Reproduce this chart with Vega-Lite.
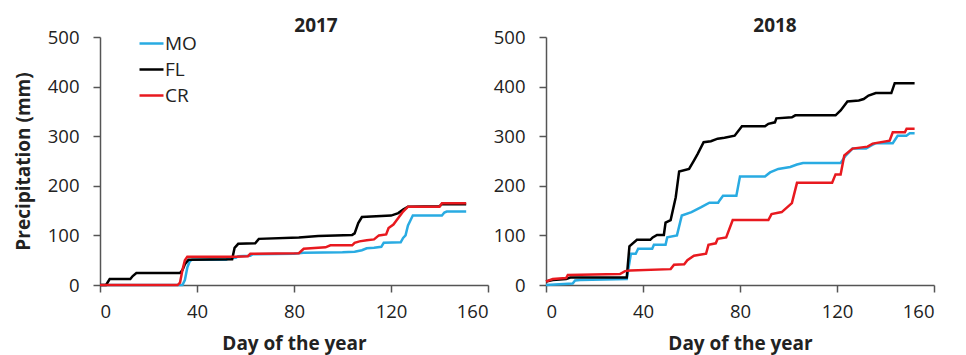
{
  "$schema": "https://vega.github.io/schema/vega-lite/v6.json",
  "background": "white",
  "padding": {"left": 14, "top": 17, "right": 5, "bottom": 2},
  "datasets": {
    "rain": [
      {"yr":2017,"s":"MO","d":0,"p":0},{"yr":2017,"s":"MO","d":34,"p":0},{"yr":2017,"s":"MO","d":35,"p":10},{"yr":2017,"s":"MO","d":36,"p":35},{"yr":2017,"s":"MO","d":37,"p":48},{"yr":2017,"s":"MO","d":38,"p":51},{"yr":2017,"s":"MO","d":52,"p":51},{"yr":2017,"s":"MO","d":53,"p":54},{"yr":2017,"s":"MO","d":56,"p":55},{"yr":2017,"s":"MO","d":57,"p":58},{"yr":2017,"s":"MO","d":62,"p":59},{"yr":2017,"s":"MO","d":63,"p":62},{"yr":2017,"s":"MO","d":80,"p":63},{"yr":2017,"s":"MO","d":84,"p":65},{"yr":2017,"s":"MO","d":100,"p":66},{"yr":2017,"s":"MO","d":105,"p":67},{"yr":2017,"s":"MO","d":108,"p":70},{"yr":2017,"s":"MO","d":110,"p":74},{"yr":2017,"s":"MO","d":113,"p":75},{"yr":2017,"s":"MO","d":116,"p":77},{"yr":2017,"s":"MO","d":117,"p":85},{"yr":2017,"s":"MO","d":124,"p":86},{"yr":2017,"s":"MO","d":125,"p":95},{"yr":2017,"s":"MO","d":126,"p":100},{"yr":2017,"s":"MO","d":127,"p":120},{"yr":2017,"s":"MO","d":128,"p":130},{"yr":2017,"s":"MO","d":129,"p":140},{"yr":2017,"s":"MO","d":141,"p":140},{"yr":2017,"s":"MO","d":142,"p":146},{"yr":2017,"s":"MO","d":143,"p":148},{"yr":2017,"s":"MO","d":151,"p":148},

      {"yr":2017,"s":"FL","d":0,"p":0},{"yr":2017,"s":"FL","d":2.5,"p":0},{"yr":2017,"s":"FL","d":4,"p":12},{"yr":2017,"s":"FL","d":12.5,"p":12},{"yr":2017,"s":"FL","d":13.5,"p":18},{"yr":2017,"s":"FL","d":15,"p":24},{"yr":2017,"s":"FL","d":33,"p":24},{"yr":2017,"s":"FL","d":34,"p":30},{"yr":2017,"s":"FL","d":35,"p":42},{"yr":2017,"s":"FL","d":36.5,"p":51},{"yr":2017,"s":"FL","d":54.5,"p":52},{"yr":2017,"s":"FL","d":55.5,"p":75},{"yr":2017,"s":"FL","d":57,"p":83},{"yr":2017,"s":"FL","d":64,"p":84},{"yr":2017,"s":"FL","d":65.5,"p":93},{"yr":2017,"s":"FL","d":82,"p":96},{"yr":2017,"s":"FL","d":90,"p":99},{"yr":2017,"s":"FL","d":104,"p":101},{"yr":2017,"s":"FL","d":105,"p":104},{"yr":2017,"s":"FL","d":106.5,"p":125},{"yr":2017,"s":"FL","d":108,"p":137},{"yr":2017,"s":"FL","d":120,"p":140},{"yr":2017,"s":"FL","d":123,"p":145},{"yr":2017,"s":"FL","d":125,"p":152},{"yr":2017,"s":"FL","d":127,"p":158},{"yr":2017,"s":"FL","d":140,"p":159},{"yr":2017,"s":"FL","d":141,"p":163},{"yr":2017,"s":"FL","d":151,"p":163},

      {"yr":2017,"s":"CR","d":0,"p":0},{"yr":2017,"s":"CR","d":32,"p":0},{"yr":2017,"s":"CR","d":33,"p":5},{"yr":2017,"s":"CR","d":34,"p":30},{"yr":2017,"s":"CR","d":35,"p":50},{"yr":2017,"s":"CR","d":36,"p":57},{"yr":2017,"s":"CR","d":56,"p":57},{"yr":2017,"s":"CR","d":61,"p":58},{"yr":2017,"s":"CR","d":62,"p":63},{"yr":2017,"s":"CR","d":82,"p":64},{"yr":2017,"s":"CR","d":84,"p":73},{"yr":2017,"s":"CR","d":93,"p":76},{"yr":2017,"s":"CR","d":95,"p":80},{"yr":2017,"s":"CR","d":104,"p":80},{"yr":2017,"s":"CR","d":105,"p":85},{"yr":2017,"s":"CR","d":107,"p":88},{"yr":2017,"s":"CR","d":110,"p":90},{"yr":2017,"s":"CR","d":113,"p":92},{"yr":2017,"s":"CR","d":115,"p":100},{"yr":2017,"s":"CR","d":118,"p":102},{"yr":2017,"s":"CR","d":119,"p":115},{"yr":2017,"s":"CR","d":121,"p":122},{"yr":2017,"s":"CR","d":123,"p":135},{"yr":2017,"s":"CR","d":125,"p":148},{"yr":2017,"s":"CR","d":127,"p":158},{"yr":2017,"s":"CR","d":140,"p":158},{"yr":2017,"s":"CR","d":141,"p":165},{"yr":2017,"s":"CR","d":151,"p":165},

      {"yr":2018,"s":"MO","d":0,"p":0},{"yr":2018,"s":"MO","d":11,"p":3},{"yr":2018,"s":"MO","d":12,"p":9},{"yr":2018,"s":"MO","d":14,"p":10},{"yr":2018,"s":"MO","d":33.3,"p":12},{"yr":2018,"s":"MO","d":35,"p":63},{"yr":2018,"s":"MO","d":37,"p":63},{"yr":2018,"s":"MO","d":38,"p":73},{"yr":2018,"s":"MO","d":43.8,"p":73},{"yr":2018,"s":"MO","d":44.5,"p":81},{"yr":2018,"s":"MO","d":49.3,"p":81},{"yr":2018,"s":"MO","d":50,"p":96},{"yr":2018,"s":"MO","d":54,"p":100},{"yr":2018,"s":"MO","d":56,"p":140},{"yr":2018,"s":"MO","d":60,"p":147},{"yr":2018,"s":"MO","d":64,"p":157},{"yr":2018,"s":"MO","d":67.4,"p":166},{"yr":2018,"s":"MO","d":71,"p":166},{"yr":2018,"s":"MO","d":71.5,"p":170},{"yr":2018,"s":"MO","d":73,"p":180},{"yr":2018,"s":"MO","d":78.5,"p":180},{"yr":2018,"s":"MO","d":80,"p":219},{"yr":2018,"s":"MO","d":90.3,"p":219},{"yr":2018,"s":"MO","d":92.4,"p":227},{"yr":2018,"s":"MO","d":95.8,"p":234},{"yr":2018,"s":"MO","d":100.7,"p":238},{"yr":2018,"s":"MO","d":103.5,"p":243},{"yr":2018,"s":"MO","d":106,"p":246},{"yr":2018,"s":"MO","d":121.5,"p":246},{"yr":2018,"s":"MO","d":123.6,"p":261},{"yr":2018,"s":"MO","d":126.4,"p":275},{"yr":2018,"s":"MO","d":132,"p":275},{"yr":2018,"s":"MO","d":134,"p":281},{"yr":2018,"s":"MO","d":136,"p":286},{"yr":2018,"s":"MO","d":143,"p":286},{"yr":2018,"s":"MO","d":145,"p":301},{"yr":2018,"s":"MO","d":148.6,"p":301},{"yr":2018,"s":"MO","d":150,"p":306},{"yr":2018,"s":"MO","d":152,"p":306},

      {"yr":2018,"s":"FL","d":0,"p":7},{"yr":2018,"s":"FL","d":2.8,"p":10},{"yr":2018,"s":"FL","d":8.3,"p":12},{"yr":2018,"s":"FL","d":10,"p":15},{"yr":2018,"s":"FL","d":33.3,"p":15},{"yr":2018,"s":"FL","d":34.4,"p":78},{"yr":2018,"s":"FL","d":37.5,"p":91},{"yr":2018,"s":"FL","d":43,"p":91},{"yr":2018,"s":"FL","d":44,"p":96},{"yr":2018,"s":"FL","d":45.8,"p":101},{"yr":2018,"s":"FL","d":48.6,"p":101},{"yr":2018,"s":"FL","d":49.3,"p":126},{"yr":2018,"s":"FL","d":51.4,"p":131},{"yr":2018,"s":"FL","d":53.5,"p":177},{"yr":2018,"s":"FL","d":54.9,"p":229},{"yr":2018,"s":"FL","d":59,"p":234},{"yr":2018,"s":"FL","d":61,"p":251},{"yr":2018,"s":"FL","d":62.5,"p":264},{"yr":2018,"s":"FL","d":65,"p":288},{"yr":2018,"s":"FL","d":68,"p":290},{"yr":2018,"s":"FL","d":70.8,"p":295},{"yr":2018,"s":"FL","d":73.6,"p":297},{"yr":2018,"s":"FL","d":77.8,"p":301},{"yr":2018,"s":"FL","d":80.8,"p":320},{"yr":2018,"s":"FL","d":90.3,"p":320},{"yr":2018,"s":"FL","d":91.7,"p":325},{"yr":2018,"s":"FL","d":94.4,"p":328},{"yr":2018,"s":"FL","d":95,"p":336},{"yr":2018,"s":"FL","d":101.4,"p":338},{"yr":2018,"s":"FL","d":102.8,"p":342},{"yr":2018,"s":"FL","d":119.4,"p":342},{"yr":2018,"s":"FL","d":121.5,"p":352},{"yr":2018,"s":"FL","d":124.3,"p":370},{"yr":2018,"s":"FL","d":129,"p":372},{"yr":2018,"s":"FL","d":131,"p":375},{"yr":2018,"s":"FL","d":133,"p":382},{"yr":2018,"s":"FL","d":136,"p":387},{"yr":2018,"s":"FL","d":142.4,"p":387},{"yr":2018,"s":"FL","d":143.8,"p":407},{"yr":2018,"s":"FL","d":152,"p":407},

      {"yr":2018,"s":"CR","d":0,"p":7},{"yr":2018,"s":"CR","d":2.8,"p":12},{"yr":2018,"s":"CR","d":8.3,"p":14},{"yr":2018,"s":"CR","d":9,"p":20},{"yr":2018,"s":"CR","d":30.5,"p":22},{"yr":2018,"s":"CR","d":32.6,"p":28},{"yr":2018,"s":"CR","d":34.7,"p":29},{"yr":2018,"s":"CR","d":51.4,"p":32},{"yr":2018,"s":"CR","d":52.8,"p":41},{"yr":2018,"s":"CR","d":57,"p":42},{"yr":2018,"s":"CR","d":58.3,"p":50},{"yr":2018,"s":"CR","d":61,"p":59},{"yr":2018,"s":"CR","d":66,"p":63},{"yr":2018,"s":"CR","d":67,"p":81},{"yr":2018,"s":"CR","d":70,"p":84},{"yr":2018,"s":"CR","d":70.8,"p":93},{"yr":2018,"s":"CR","d":74.3,"p":96},{"yr":2018,"s":"CR","d":77,"p":131},{"yr":2018,"s":"CR","d":91.7,"p":131},{"yr":2018,"s":"CR","d":93,"p":143},{"yr":2018,"s":"CR","d":97.2,"p":147},{"yr":2018,"s":"CR","d":98.6,"p":153},{"yr":2018,"s":"CR","d":101.4,"p":165},{"yr":2018,"s":"CR","d":103.5,"p":206},{"yr":2018,"s":"CR","d":118,"p":206},{"yr":2018,"s":"CR","d":119.4,"p":223},{"yr":2018,"s":"CR","d":121.5,"p":223},{"yr":2018,"s":"CR","d":123,"p":261},{"yr":2018,"s":"CR","d":126.4,"p":275},{"yr":2018,"s":"CR","d":132.6,"p":279},{"yr":2018,"s":"CR","d":134.7,"p":285},{"yr":2018,"s":"CR","d":141.7,"p":291},{"yr":2018,"s":"CR","d":143,"p":308},{"yr":2018,"s":"CR","d":148,"p":308},{"yr":2018,"s":"CR","d":148.7,"p":315},{"yr":2018,"s":"CR","d":152,"p":315}
    ]
  },
  "data": {"name": "rain"},
  "hconcat": [
    {
      "width": 388,
      "height": 248,
      "title": {"text": "2017", "dx": 22},
      "transform": [{"filter": "datum.yr == 2017"}],
      "mark": {"type": "line", "strokeWidth": 2.5},
      "encoding": {
        "x": {"field": "d", "type": "quantitative", "title": "Day of the year",
              "scale": {"domain": [0, 160], "nice": false},
              "axis": {"values": [0, 40, 80, 120, 160]}},
        "y": {"field": "p", "type": "quantitative", "title": "Precipitation (mm)",
              "scale": {"domain": [0, 500], "nice": false},
              "axis": {"values": [0, 100, 200, 300, 400, 500]}},
        "color": {"field": "s", "type": "nominal", "sort": ["MO", "FL", "CR"],
                  "scale": {"domain": ["MO", "FL", "CR"], "range": ["#29ABE2", "#000000", "#E8191F"]},
                  "legend": {"orient": "none", "legendX": 38, "legendY": -7, "title": null,
                             "symbolType": "stroke", "symbolSize": 576, "symbolStrokeWidth": 2.5,
                             "labelFont": "Open Sans", "labelFontSize": 19, "labelColor": "#222",
                             "labelOffset": 0, "rowPadding": 2}},
        "order": {"field": "d", "type": "quantitative"}
      }
    },
    {
      "width": 388,
      "height": 248,
      "title": {"text": "2018", "dx": 35},
      "transform": [{"filter": "datum.yr == 2018"}],
      "mark": {"type": "line", "strokeWidth": 2.5},
      "encoding": {
        "x": {"field": "d", "type": "quantitative", "title": "Day of the year",
              "scale": {"domain": [0, 160], "nice": false},
              "axis": {"values": [0, 40, 80, 120, 160]}},
        "y": {"field": "p", "type": "quantitative", "title": null,
              "scale": {"domain": [0, 500], "nice": false},
              "axis": {"values": [0, 100, 200, 300, 400, 500]}},
        "color": {"field": "s", "type": "nominal", "sort": ["MO", "FL", "CR"],
                  "scale": {"domain": ["MO", "FL", "CR"], "range": ["#29ABE2", "#000000", "#E8191F"]},
                  "legend": null},
        "order": {"field": "d", "type": "quantitative"}
      }
    }
  ],
  "spacing": 58,
  "bounds": "flush",
  "resolve": {"legend": {"color": "independent"}},
  "config": {
    "view": {"stroke": null},
    "axis": {
      "grid": false,
      "domainColor": "#555",
      "domainWidth": 1.5,
      "tickColor": "#555",
      "tickWidth": 1.5,
      "tickSize": 7,
      "labelFont": "Open Sans",
      "labelFontSize": 18.5,
      "labelColor": "#222",
      "titleFont": "Open Sans",
      "titleFontSize": 19,
      "titleFontWeight": "bold",
      "titleColor": "#222"
    },
    "axisX": {"labelPadding": 10, "titlePadding": 14},
    "axisY": {"labelPadding": 14, "titlePadding": 14},
    "title": {"font": "Open Sans", "fontSize": 19, "fontWeight": "bold", "color": "#222", "offset": -8}
  }
}
